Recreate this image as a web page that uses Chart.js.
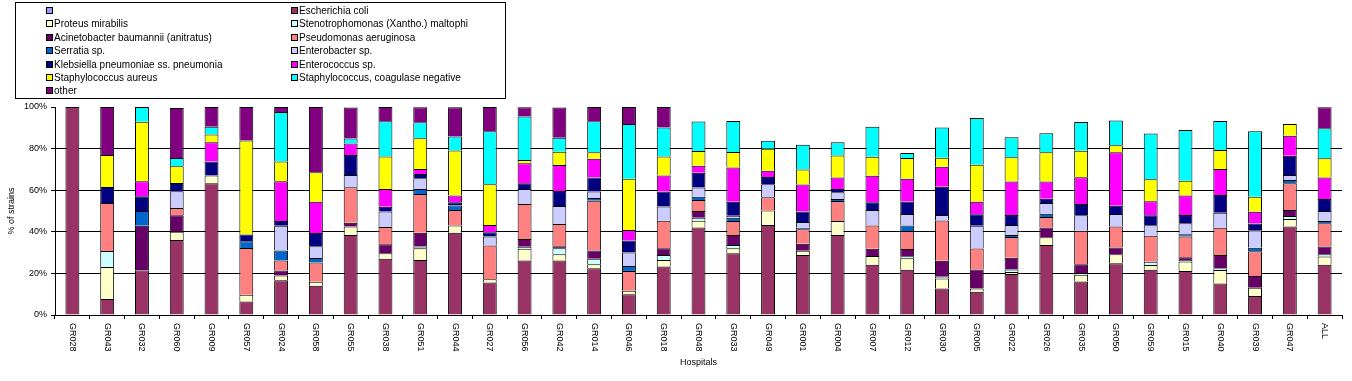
<!DOCTYPE html>
<html>
<head>
<meta charset="utf-8">
<script src="https://cdn.jsdelivr.net/npm/chart.js@4.4.1/dist/chart.umd.min.js"></script>
<style>
html,body{margin:0;padding:0;background:#fff;}
#wrap{width:1352px;height:381px;}
</style>
</head>
<body>
<div id="wrap"><canvas id="c" width="1352" height="381"></canvas></div>
<script>
const categories = ['GR028','GR043','GR032','GR060','GR009','GR057','GR024','GR058','GR055','GR038','GR051','GR044','GR027','GR056','GR042','GR014','GR046','GR018','GR048','GR033','GR049','GR001','GR004','GR007','GR012','GR030','GR005','GR022','GR026','GR035','GR050','GR059','GR015','GR040','GR039','GR047','ALL'];

const yTicks = [0, 20, 40, 60, 80, 100];

const seriesNames = ['', 'Escherichia coli', 'Proteus mirabilis', 'Stenotrophomonas (Xantho.) maltophi', 'Acinetobacter baumannii (anitratus)', 'Pseudomonas aeruginosa', 'Serratia sp.', 'Enterobacter sp.', 'Klebsiella pneumoniae ss. pneumonia', 'Enterococcus sp.', 'Staphylococcus aureus', 'Staphylococcus, coagulase negative', 'other'];

const blank = categories.map(() => 0);
const eColi =        [100, 7.69, 21.43, 36, 63.4, 6.45, 16.67, 14.1, 38.5, 27.0, 26.5, 39.6, 15.6, 26.2, 26.2, 22.5, 10.0, 23.3, 42.1, 29.7, 43.3, 28.9, 38.5, 24.1, 21.7, 12.8, 11.2, 19.7, 33.7, 16.1, 24.9, 21.8, 21.2, 15.2, 9.1, 42.5, 24.1];
const proteus =      [0, 15.38, 0, 4, 3.7, 3.23, 2.38, 1.9, 4.0, 2.7, 5.6, 3.4, 1.6, 5.6, 3.0, 1.9, 1.6, 3.2, 3.2, 2.4, 6.9, 2.0, 6.7, 4.3, 5.6, 4.8, 1.6, 1.0, 3.7, 3.2, 4.3, 2.2, 4.5, 6.4, 4.0, 3.7, 4.0];
const steno =        [0, 7.69, 0, 0, 0, 0, 0, 0, 0, 0, 0.8, 0, 0, 1.0, 2.9, 2.6, 0, 2.4, 1.5, 1.6, 0, 0, 0, 0, 1.0, 0.8, 0, 1.2, 0, 0.8, 0, 1.6, 0.8, 0.8, 0, 1.4, 1.1];
const acineto =      [0, 0, 21.43, 8, 0, 0, 2.38, 0, 1.9, 4.3, 6.7, 0, 0, 3.7, 1.0, 4.0, 0, 3.2, 3.2, 4.8, 0, 3.4, 0, 3.4, 3.4, 7.7, 9.1, 5.6, 4.7, 4.3, 3.2, 0, 1.3, 6.4, 5.6, 2.9, 3.7];
const pseudo =       [0, 23.08, 0, 3.5, 0, 22.58, 4.76, 9.3, 17.0, 8.3, 18.6, 7.5, 16.2, 16.9, 10.6, 23.9, 9.6, 13.2, 5.3, 6.7, 6.4, 6.9, 9.6, 11.2, 8.7, 19.3, 10.1, 10.0, 5.0, 16.1, 10.1, 12.5, 10.0, 13.2, 12.0, 12.8, 11.2];
const serratia =     [0, 0, 7.14, 0, 0, 3.23, 4.76, 2.1, 0, 0, 2.4, 2.1, 0, 0, 0, 1.3, 2.4, 0, 1.5, 1.5, 0, 0.8, 1.0, 0, 2.6, 0, 0, 1.0, 1.6, 0, 0, 0, 1.0, 0, 1.6, 1.6, 1.1];
const enterobacter = [0, 0, 0, 8, 0, 0, 11.90, 5.6, 5.9, 7.4, 5.1, 0, 4.3, 7.2, 8.7, 3.2, 6.4, 6.9, 4.5, 1.0, 6.3, 2.7, 3.2, 7.5, 5.5, 2.7, 10.9, 4.8, 5.1, 7.4, 6.1, 5.1, 5.3, 7.2, 8.5, 2.4, 4.8];
const klebsiella =   [0, 7.69, 7.14, 4, 6.7, 3.23, 2.38, 6.4, 9.6, 2.4, 2.1, 1.6, 2.1, 2.7, 7.2, 6.7, 5.8, 7.2, 7.1, 6.7, 3.5, 5.1, 1.6, 3.7, 6.1, 13.6, 5.5, 4.8, 2.1, 5.5, 3.9, 4.8, 4.0, 8.5, 3.2, 9.3, 5.8];
const enterococcus = [0, 0, 7.14, 0, 9.3, 0, 19.05, 15.1, 5.6, 8.5, 2.4, 3.2, 3.5, 9.6, 12.5, 9.0, 5.1, 7.7, 3.4, 16.5, 2.9, 13.0, 5.5, 12.8, 10.9, 9.6, 6.1, 16.1, 8.3, 12.8, 25.7, 6.7, 9.3, 12.5, 5.6, 9.6, 10.3];
const sAureus =      [0, 15.38, 28.57, 8, 3.7, 45.16, 9.52, 14.1, 0, 15.6, 14.8, 21.7, 19.6, 1.6, 6.4, 3.2, 24.6, 9.1, 7.1, 7.5, 10.6, 7.2, 10.6, 9.1, 10.0, 4.3, 17.7, 11.7, 14.1, 12.8, 3.4, 10.6, 7.2, 9.1, 7.2, 5.6, 9.3];
const scn =          [0, 0, 7.14, 4, 3.7, 0, 23.81, 0, 2.4, 16.9, 7.7, 6.7, 25.4, 20.9, 6.7, 14.8, 26.3, 14.0, 14.1, 14.9, 3.9, 11.9, 6.4, 14.4, 2.4, 14.6, 22.5, 9.6, 9.1, 13.8, 11.9, 22.0, 24.4, 14.0, 31.6, 0, 14.4];
const other =        [0, 23.08, 0, 24, 9.5, 16.12, 2.38, 31.4, 14.9, 6.9, 7.2, 14.1, 11.7, 4.5, 14.6, 6.9, 8.2, 9.8, 0, 0, 0, 0, 0, 0, 0, 0, 0, 0, 0, 0, 0, 0, 0, 0, 0, 0, 10.1];

const seriesData = [blank, eColi, proteus, steno, acineto, pseudo, serratia, enterobacter, klebsiella, enterococcus, sAureus, scn, other];
const seriesColors = ['#9999FF', '#993366', '#FFFFCC', '#CCFFFF', '#660066', '#FF8080', '#0066CC', '#CCCCFF', '#000080', '#FF00FF', '#FFFF00', '#00FFFF', '#800080'];

const FONT = '"Liberation Sans", Arial, sans-serif';

const datasets = seriesNames.map((name, i) => ({
  label: name,
  data: seriesData[i],
  backgroundColor: seriesColors[i],
  borderColor: '#000000',
  borderWidth: {top: 1, left: 1, right: 1, bottom: 0},
  borderSkipped: false,
  barPercentage: 0.4,
  categoryPercentage: 1.0
}));

const decor = {
  id: 'decor',
  afterDraw(chart) {
    const ctx = chart.ctx;
    const ca = chart.chartArea;
    const xs = chart.scales.x;
    ctx.save();
    // x category labels, rotated clockwise
    ctx.fillStyle = '#000';
    ctx.font = '9px ' + FONT;
    ctx.textAlign = 'left';
    ctx.textBaseline = 'middle';
    categories.forEach((lab, i) => {
      const x = xs.getPixelForValue(i);
      ctx.save();
      ctx.translate(x, ca.bottom + 8);
      ctx.rotate(Math.PI / 2);
      ctx.fillText(lab, 0, 0);
      ctx.restore();
    });
    // x title
    ctx.textAlign = 'center';
    ctx.fillText('Hospitals', (ca.left + ca.right) / 2, 363);
    // y title
    ctx.save();
    ctx.translate(12, (ca.top + ca.bottom) / 2);
    ctx.rotate(-Math.PI / 2);
    ctx.fillText('% of strains', 0, 0);
    ctx.restore();

    // legend box
    ctx.fillStyle = '#fff';
    ctx.fillRect(15.5, 2.5, 490, 96);
    ctx.strokeStyle = '#000';
    ctx.lineWidth = 1;
    ctx.strokeRect(15.5, 2.5, 490, 96);
    ctx.font = '10px ' + FONT;
    ctx.textAlign = 'left';
    ctx.textBaseline = 'middle';
    chart.data.datasets.forEach((ds, i) => {
      const col = i % 2, row = Math.floor(i / 2);
      const sx = col ? 291 : 46;
      const tx = col ? 299 : 54;
      const y = Math.round(9.7 + row * 13.45);
      ctx.fillStyle = '#000';
      ctx.fillRect(sx, y - 3, 7, 7);
      ctx.fillStyle = ds.backgroundColor;
      ctx.fillRect(sx + 1, y - 2, 5, 5);
      ctx.fillStyle = '#000';
      ctx.fillText(ds.label, tx, y + 1);
    });
    ctx.restore();
  }
};

new Chart(document.getElementById('c'), {
  type: 'bar',
  data: { labels: categories, datasets: datasets },
  options: {
    responsive: false,
    animation: false,
    devicePixelRatio: 1,
    layout: { padding: { top: 107, right: 10, bottom: 0, left: 0 } },
    plugins: { legend: { display: false }, tooltip: { enabled: false } },
    scales: {
      x: {
        stacked: true,
        offset: true,
        afterFit(s) { s.height = 66; },
        ticks: { display: false },
        grid: { offset: true, drawOnChartArea: false, drawTicks: true, tickLength: 4, color: '#000', lineWidth: 1 },
        border: { display: true, color: '#000', width: 1 }
      },
      y: {
        stacked: true,
        min: 0,
        max: 100,
        afterFit(s) { s.width = 55; },
        afterBuildTicks(s) { s.ticks = yTicks.map(v => ({ value: v })); },
        ticks: {
          color: '#000',
          font: { family: FONT, size: 9 },
          padding: 4,
          callback: v => v + '%'
        },
        grid: {
          color: c => (c.tick && c.tick.value > 0 && c.tick.value < 100) ? '#000' : 'rgba(0,0,0,0)',
          tickColor: '#000',
          tickLength: 4,
          lineWidth: 1
        },
        border: { display: true, color: '#000', width: 1 }
      }
    }
  },
  plugins: [decor]
});
</script>
</body>
</html>
